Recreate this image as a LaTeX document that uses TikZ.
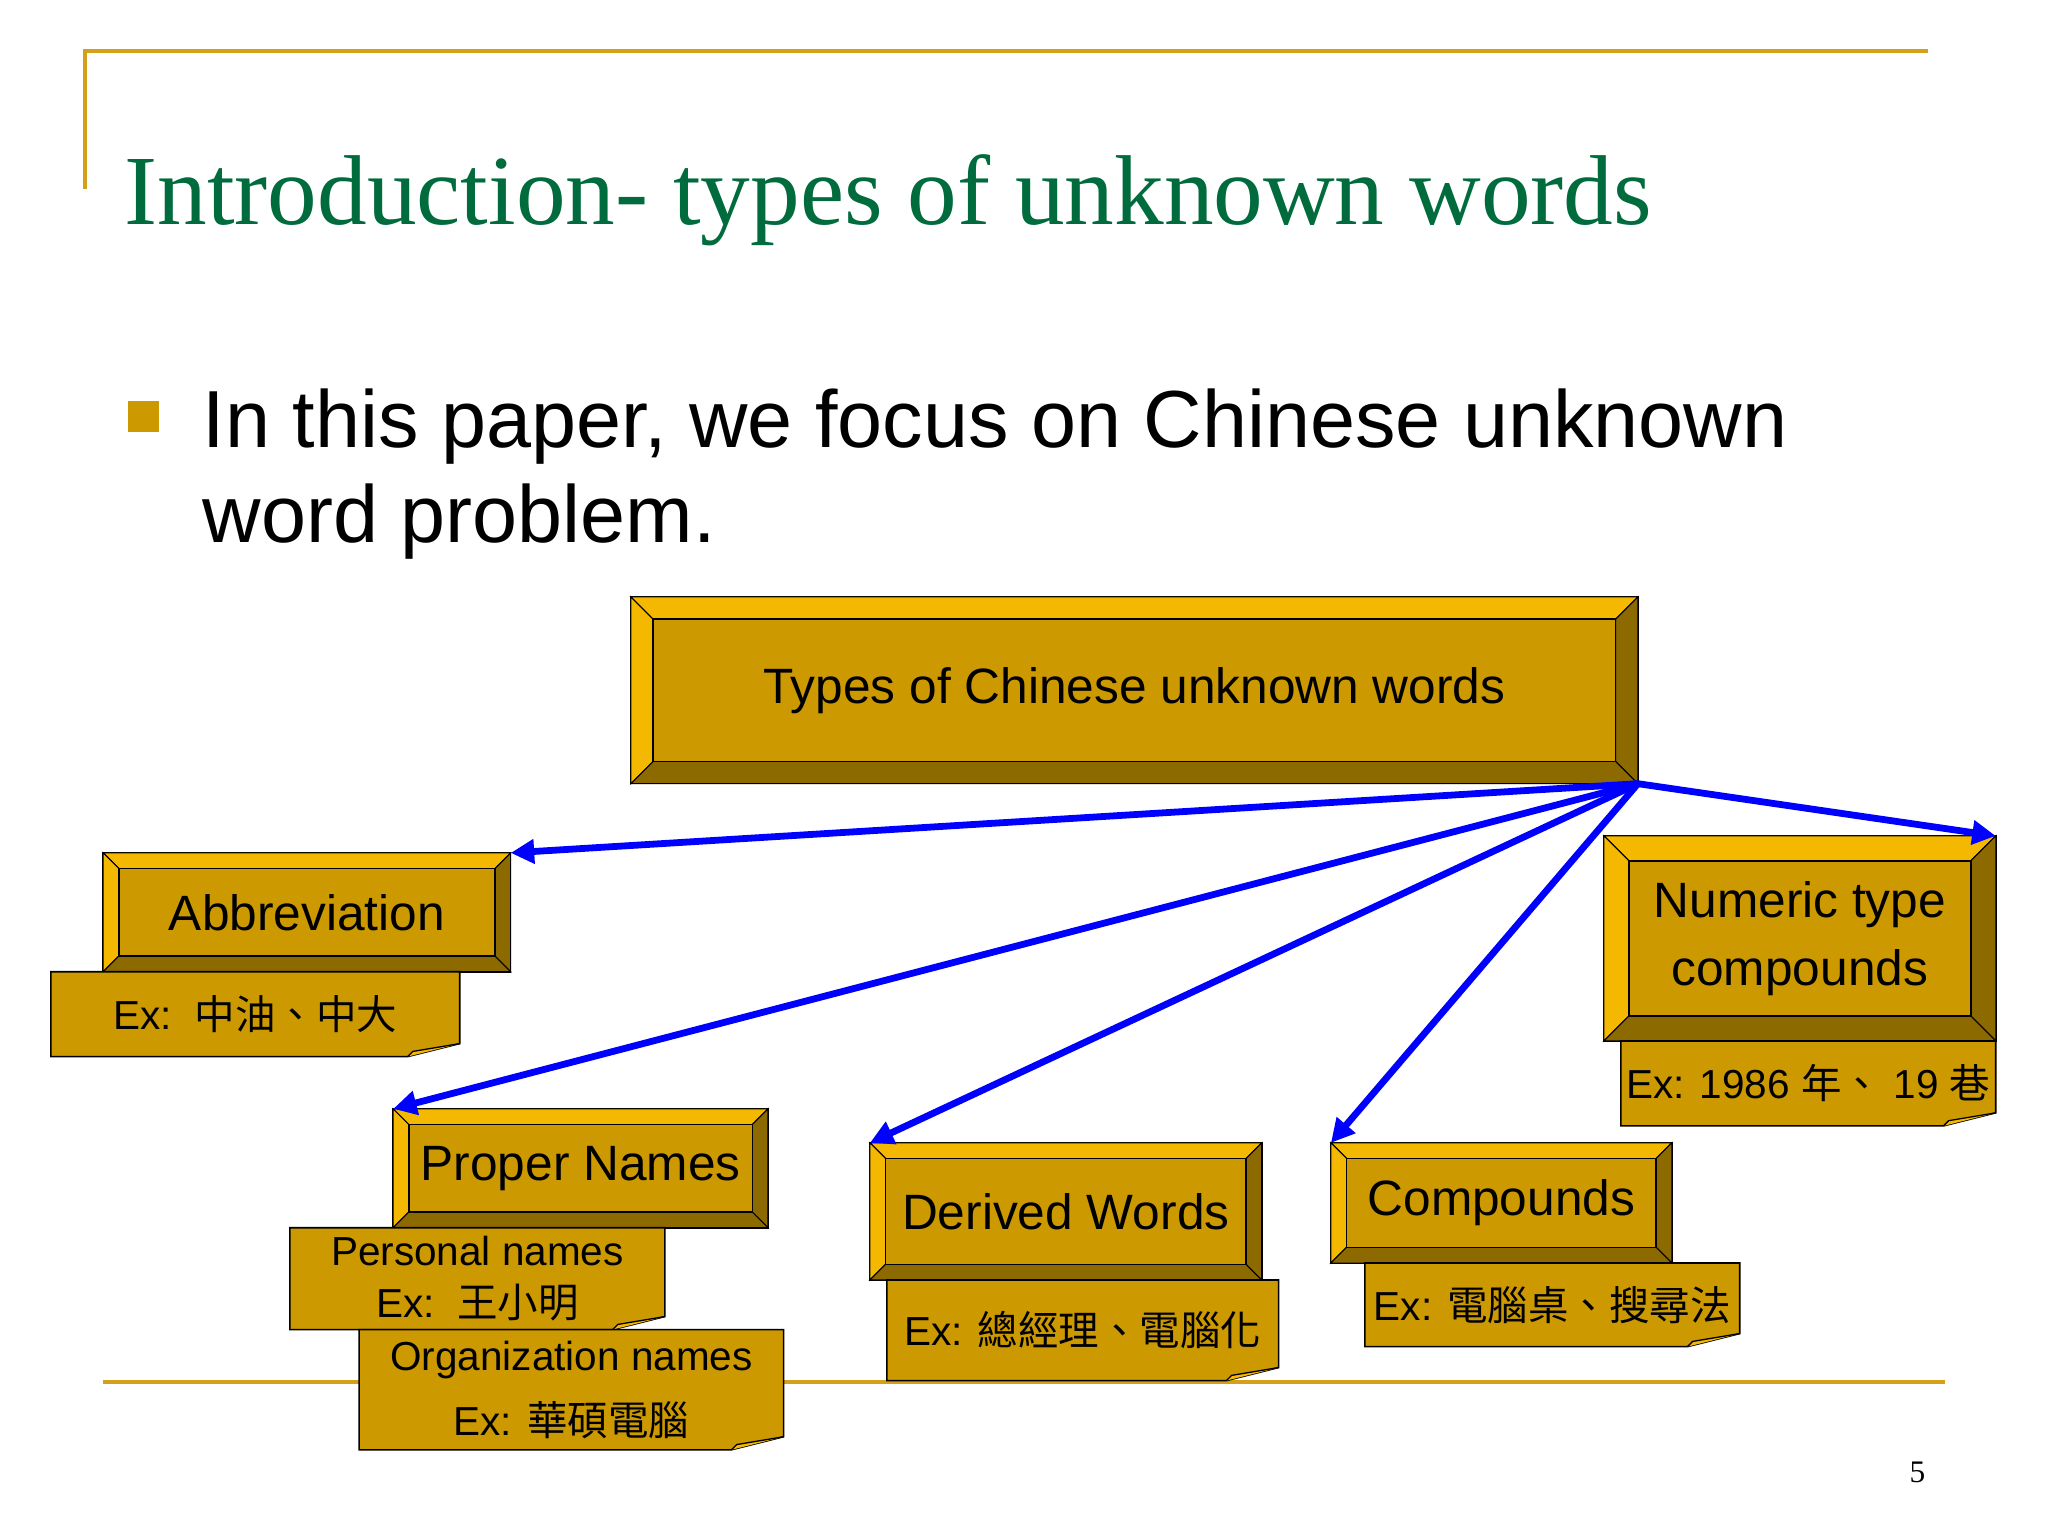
\documentclass[tikz,border=0pt]{standalone}
\usepackage{fontspec}
\setmainfont{Liberation Sans}
\newfontfamily\titlefont{Liberation Serif}
\newfontfamily\cjk{Noto Sans CJK TC}
\usetikzlibrary{arrows.meta}
\definecolor{gold}{HTML}{CC9900}
\definecolor{goldL}{HTML}{F5B800}
\definecolor{goldD}{HTML}{8C6A00}
\definecolor{titlegreen}{HTML}{006B3C}
\definecolor{rule}{HTML}{D4A017}
\tikzset{
 conn/.style={draw=blue,line width=2.6pt,-{Triangle[length=9pt,width=9pt]}},
 lbl/.style={font=\fontsize{19}{22}\selectfont,align=center},
 nlbl/.style={font=\fontsize{15.5}{19}\selectfont,align=center},
}
% bevel box: name, x1,y1,x2,y2, d, text
\newcommand\bevbox[7]{%
 \fill[gold,draw=black,line width=0.6pt] (#2,#3) rectangle (#4,#5);
 \fill[goldL,draw=black,line width=0.4pt] (#2,#3)--(#4,#3)--(#4-#6,#3+#6)--(#2+#6,#3+#6)--cycle;
 \fill[goldL,draw=black,line width=0.4pt] (#2,#3)--(#2+#6,#3+#6)--(#2+#6,#5-#6)--(#2,#5)--cycle;
 \fill[goldD,draw=black,line width=0.4pt] (#4,#3)--(#4,#5)--(#4-#6,#5-#6)--(#4-#6,#3+#6)--cycle;
 \fill[goldD,draw=black,line width=0.4pt] (#2,#5)--(#4,#5)--(#4-#6,#5-#6)--(#2+#6,#5-#6)--cycle;
 \node[draw=black,line width=0.6pt,fill=gold,lbl,minimum width=(#4-#2-2*#6)*0.5pt,minimum height=(#5-#3-2*#6)*0.5pt,inner sep=0pt] (#1) at ({(#2+#4)/2},{(#3+#5)/2}) {#7};
 \coordinate (#1-a) at (#2,#3);\coordinate (#1-b) at (#4,#3);
}
% note: name, x1,y1,x2,y2, text
\newcommand\notebox[6]{%
 \fill[gold,draw=black,line width=0.6pt] (#2,#3)--(#4,#3)--(#4,#5-10)--(#4-40,#5)--(#2,#5)--cycle;
 \draw[black,line width=0.5pt,fill=goldL] (#4,#5-10)--(#4-36,#5-4)--(#4-40,#5);
 \node[nlbl,inner sep=0pt] (#1) at ({(#2+#4)/2},{(#3+#5)/2}) {#6};
}
\begin{document}
\begin{tikzpicture}[x={(0.5pt,0)},y={(0,-0.5pt)}]
\useasboundingbox (0,0) rectangle (1568,1176);
\draw[rule,line width=1.6pt] (65,145)--(65,39)--(1476,39);
\draw[rule,line width=1.6pt] (79,1058)--(1489,1058);
\node[anchor=base west,inner sep=0pt,text=titlegreen,font=\titlefont\fontsize{38}{40}\selectfont] (title) at (95,172) {Introduction- types of unknown words};
\fill[gold] (98,307) rectangle (122,331);
\node[anchor=base west,inner sep=0pt,align=left,font=\fontsize{31}{36}\selectfont] (bul) at (155,343) {In this paper, we focus on Chinese unknown};
\node[anchor=base west,inner sep=0pt,font=\fontsize{31}{36}\selectfont] (bul2) at (155,415) {word problem.};
\node[font=\titlefont\fontsize{12}{14}\selectfont] (pg) at (1468,1127) {5};

\bevbox{main}{483}{457}{1254}{600}{17}{Types of Chinese unknown words}
\bevbox{abbr}{79}{653}{391}{744}{12}{Abbreviation}
\notebox{abbrn}{39}{744}{352}{809}{Ex:\ \ {\cjk 中油、中大}}
\bevbox{num}{1228}{640}{1528}{797}{19}{Numeric type\\[4pt]compounds}
\notebox{numn}{1241}{797}{1528}{862}{Ex: 1986 {\cjk 年、} 19 {\cjk 巷}}
\bevbox{prop}{301}{849}{588}{940}{12}{Proper Names}
\notebox{pers}{222}{940}{509}{1018}{Personal names\\[1pt]Ex:\ \ {\cjk 王小明}}
\notebox{org}{275}{1018}{600}{1110}{Organization names\\[6pt]Ex: {\cjk 華碩電腦}}
\bevbox{der}{666}{875}{966}{980}{12}{Derived Words}
\notebox{dern}{679}{980}{979}{1057}{Ex: {\cjk 總經理、電腦化}}
\bevbox{comp}{1019}{875}{1280}{967}{12}{Compounds}
\notebox{compn}{1045}{967}{1332}{1031}{Ex: {\cjk 電腦桌、搜尋法}}

\coordinate (src) at (1254,600);
\draw[conn] (src) -- (abbr-b);
\draw[conn] (src) -- (prop-a);
\draw[conn] (src) -- (der-a);
\draw[conn] (src) -- (comp-a);
\draw[conn] (src) -- (num-b);
\end{tikzpicture}
\end{document}
